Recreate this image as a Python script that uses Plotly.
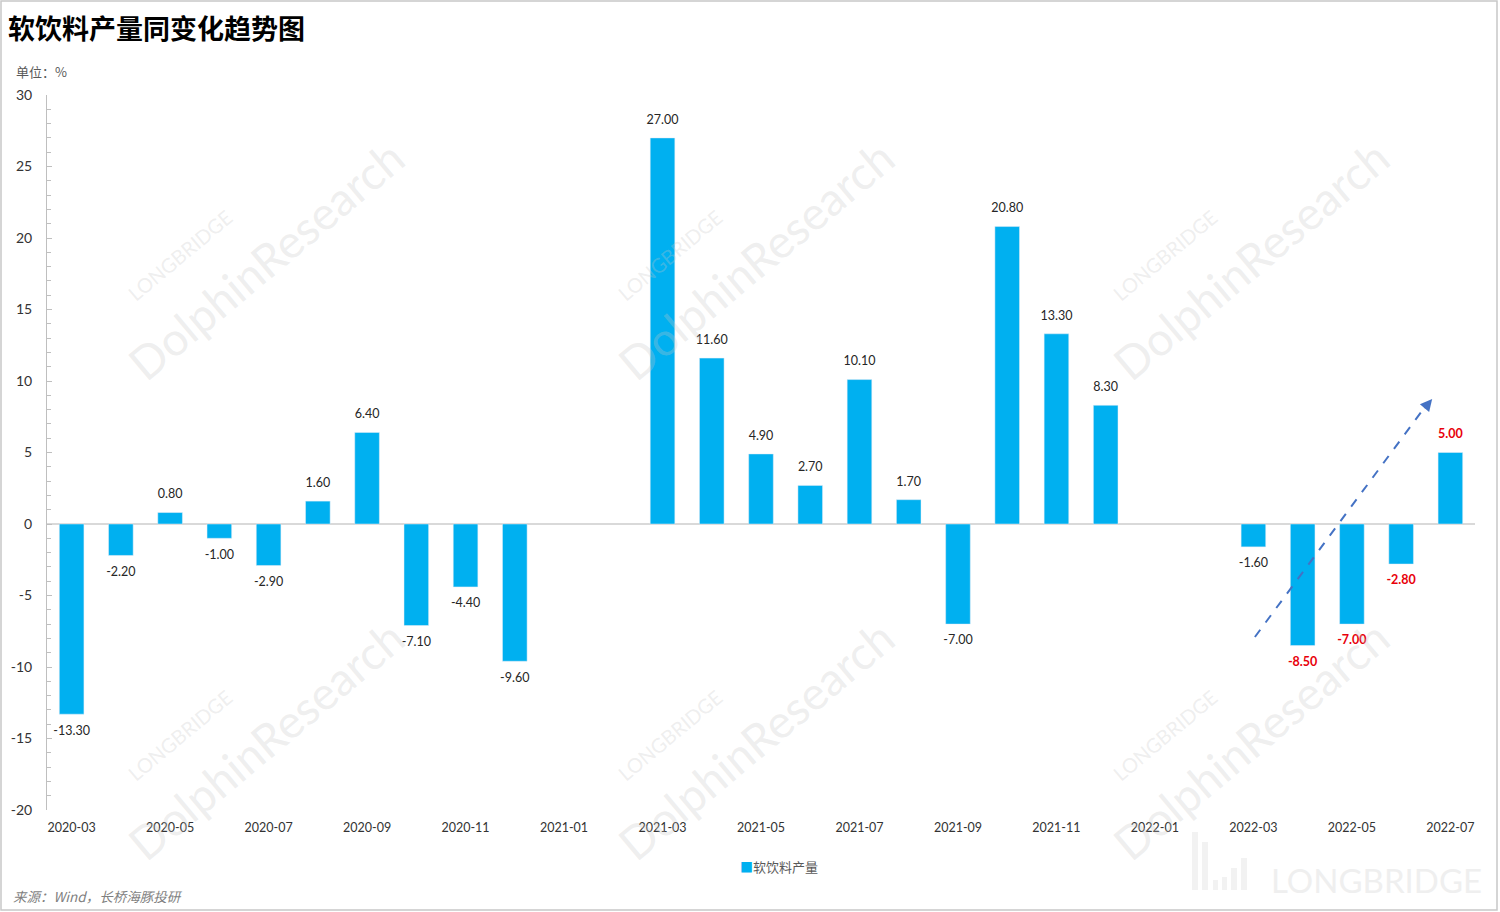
import plotly.graph_objects as go

months = ["2020-03", "2020-04", "2020-05", "2020-06", "2020-07", "2020-08", "2020-09",
          "2020-10", "2020-11", "2020-12", "2021-01", "2021-02", "2021-03", "2021-04",
          "2021-05", "2021-06", "2021-07", "2021-08", "2021-09", "2021-10", "2021-11",
          "2021-12", "2022-01", "2022-02", "2022-03", "2022-04", "2022-05", "2022-06",
          "2022-07"]
values = [-13.3, -2.2, 0.8, -1.0, -2.9, 1.6, 6.4, -7.1, -4.4, -9.6, None, None,
          27.0, 11.6, 4.9, 2.7, 10.1, 1.7, -7.0, 20.8, 13.3, 8.3, None, None,
          -1.6, -8.5, -7.0, -2.8, 5.0]
highlight = ["2022-04", "2022-05", "2022-06", "2022-07"]
tick_labels = months[::2]
y_tick_vals = [-20, -15, -10, -5, 0, 5, 10, 15, 20, 25, 30]
y_tick_text = ["-20", "-15", "-10", "-5", "0", "5", "10", "15", "20", "25", "30"]
series_name = "软饮料产量"

BLUE = "#00B0F0"
CJK = "Noto Sans CJK SC, Noto Sans, sans-serif"

texts, colors, positions = [], [], []
for m, v in zip(months, values):
    if v is None:
        texts.append("")
        colors.append("#404040")
        positions.append("top center")
    else:
        if m in highlight:
            texts.append(f"<b>{v:.2f}</b>")
            colors.append("#E8000B")
        else:
            texts.append(f"{v:.2f}")
            colors.append("#262626")
        positions.append("top center" if v >= 0 else "bottom center")

fig = go.Figure()
fig.add_trace(go.Bar(
    x=months, y=values, name=series_name, marker_color=BLUE, width=0.5,
    showlegend=False, hoverinfo="x+y",
))
# data labels placed a little further from the bar ends
fig.add_trace(go.Scatter(
    x=months, y=values, mode="markers+text", text=texts, textposition=positions,
    marker=dict(size=16, opacity=0), cliponaxis=False, hoverinfo="skip", showlegend=False,
    textfont=dict(size=12.5, color=colors, family="Lato, Noto Sans, sans-serif"),
))

W, H = 1500, 912
L, R, T, B = 47, 25, 95, 102
pw, ph = W - L - R, H - T - B

def px(x):
    return (x - L) / pw

def py(y):
    return 1 - (y - T) / ph

shapes = [
    dict(type="rect", xref="paper", yref="paper", x0=px(1), x1=px(1497), y0=py(910), y1=py(1),
         line=dict(color="#c8c8c8", width=1.5), fillcolor="rgba(0,0,0,0)", layer="below"),
    dict(type="line", xref="x", yref="y", x0=24.03, y0=-7.9, x1=27.55, y1=8.5,
         line=dict(color="#4472C4", width=2, dash="dash")),
]
# faint bar logo next to the bottom-right LONGBRIDGE watermark
for x0, x1, y0 in [(1192, 1198, 832), (1202, 1208, 842), (1213, 1218, 880), (1222, 1227, 877),
                   (1231, 1237, 868), (1241, 1247, 858)]:
    shapes.append(dict(type="rect", xref="paper", yref="paper", x0=px(x0), x1=px(x1),
                       y0=py(890), y1=py(y0), line=dict(width=0), fillcolor="#f2f2f2", layer="below"))

annotations = [
    dict(text="<b>软饮料产量同变化趋势图</b>", xref="paper", yref="paper", x=px(6), y=py(28),
         xanchor="left", yanchor="middle", showarrow=False,
         font=dict(size=27, color="#000000", family=CJK)),
    dict(text="单位：%", xref="paper", yref="paper", x=px(14), y=py(72),
         xanchor="left", yanchor="middle", showarrow=False,
         font=dict(size=13, color="#595959", family=CJK)),
    dict(text="<i>来源：Wind，长桥海豚投研</i>", xref="paper", yref="paper", x=px(11), y=py(896),
         xanchor="left", yanchor="middle", showarrow=False,
         font=dict(size=13.5, color="#7f7f7f", family=CJK)),
    dict(text=f"<span style='color:{BLUE}'>■</span>{series_name}", xref="paper", yref="paper",
         x=px(738), y=py(866), xanchor="left", yanchor="middle", showarrow=False,
         font=dict(size=13, color="#595959", family=CJK)),
    dict(text="LONGBRIDGE", xref="paper", yref="paper", x=px(1376), y=py(880),
         xanchor="center", yanchor="middle", showarrow=False,
         font=dict(size=33, color="#efefef", family="Lato, sans-serif")),
    dict(x=27.63, y=8.75, ax=27.45, ay=8.0, xref="x", yref="y", axref="x", ayref="y",
         text="", showarrow=True, arrowhead=2, arrowsize=1.2, arrowwidth=2, arrowcolor="#4472C4"),
]

for cx, cy in [(255, 260), (745, 260), (1240, 260), (255, 740), (745, 740), (1240, 740)]:
    annotations.append(dict(text="DolphinResearch", xref="paper", yref="paper",
                            x=px(cx + 10), y=py(cy), xanchor="center", yanchor="middle",
                            showarrow=False, textangle=-40,
                            font=dict(size=46, color="rgba(200,200,200,0.3)", family="Lato, sans-serif")))
    annotations.append(dict(text="LONGBRIDGE", xref="paper", yref="paper",
                            x=px(cx - 75), y=py(cy - 5), xanchor="center", yanchor="middle",
                            showarrow=False, textangle=-40,
                            font=dict(size=20, color="rgba(200,200,200,0.3)", family="Lato, sans-serif")))

fig.update_layout(
    width=W, height=H, margin=dict(l=L, r=R, t=T, b=B, autoexpand=False),
    paper_bgcolor="white", plot_bgcolor="white",
    shapes=shapes, annotations=annotations,
    bargap=0.5, showlegend=False,
    font=dict(family="Lato, Noto Sans, sans-serif", color="#333333"),
)
fig.update_xaxes(type="category", range=[-0.5, 28.5], tickmode="array", automargin=False,
                 tickvals=tick_labels, ticktext=tick_labels, showline=False, showgrid=False,
                 ticks="", tickfont=dict(size=12.5, color="#333333"), zeroline=False, ticklabelstandoff=8)
fig.update_yaxes(range=[-20, 30], tickmode="array", tickvals=y_tick_vals, ticktext=y_tick_text,
                 showgrid=False, zeroline=True, zerolinecolor="#d9d9d9",
                 zerolinewidth=1.5, showline=True, linecolor="#bfbfbf", linewidth=1, automargin=False,
                 ticks="inside", ticklen=5, tickcolor="#bfbfbf",
                 minor=dict(dtick=1, ticks="inside", ticklen=4, tickcolor="#bfbfbf"),
                 tickfont=dict(size=14, color="#333333"), ticklabelstandoff=11)

fig.write_html("out.html", config={"displayModeBar": False},
               post_script="document.body.style.margin='0';document.body.style.overflow='hidden';")
